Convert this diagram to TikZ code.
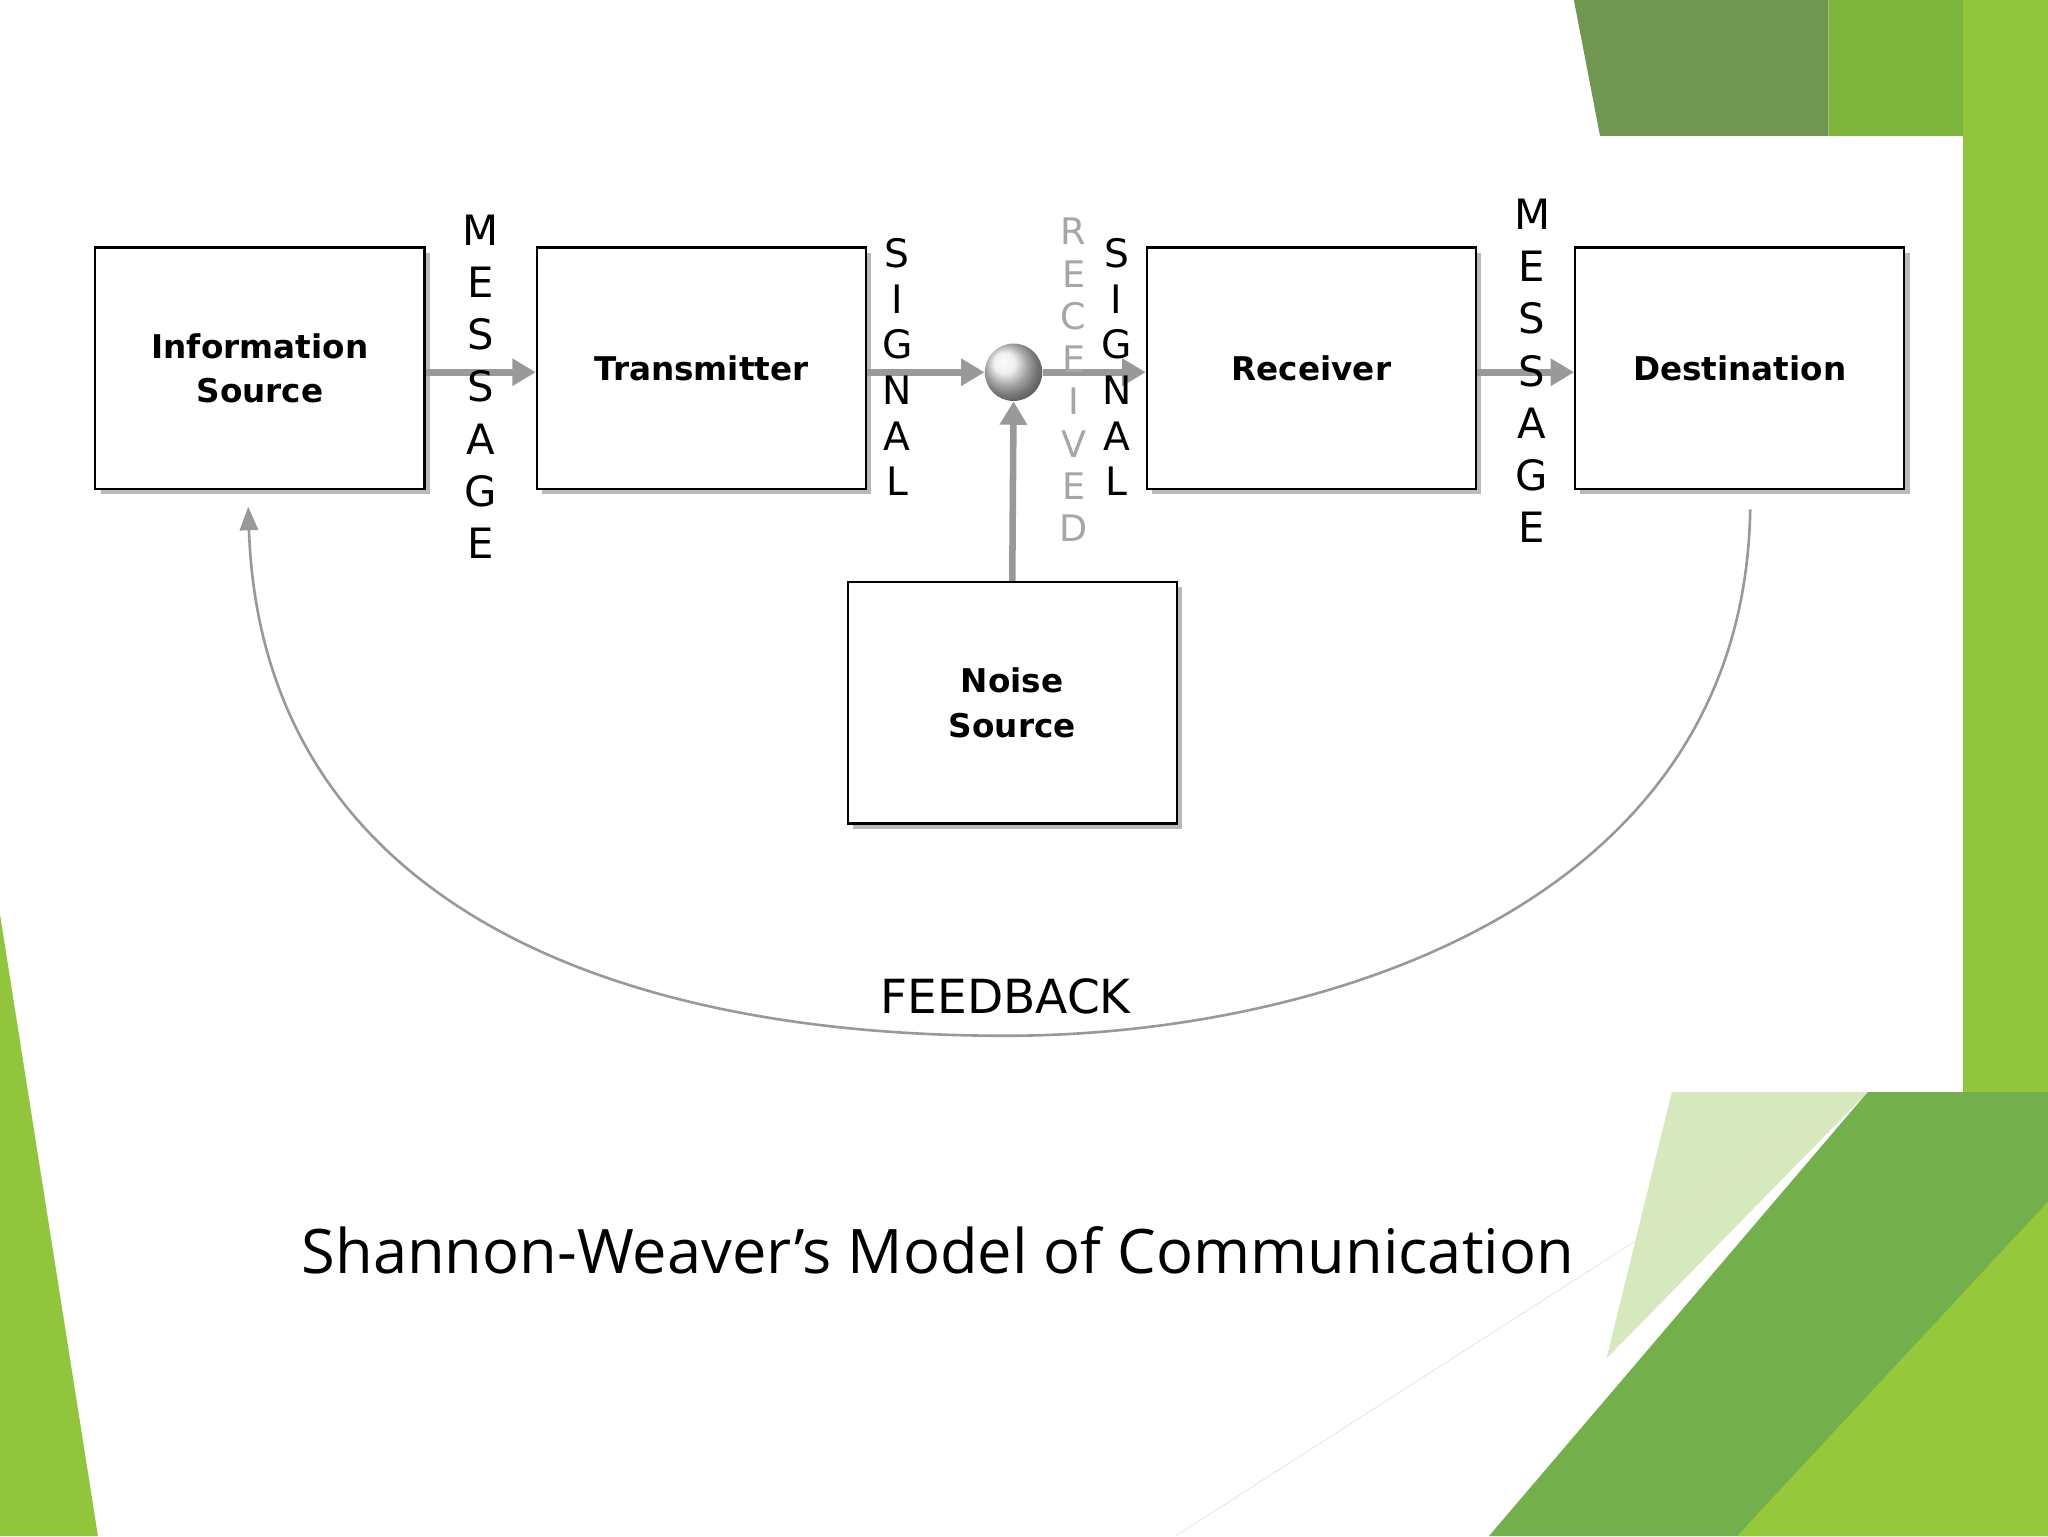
\documentclass[tikz,border=0pt]{standalone}
\usepackage{fontspec}
\usetikzlibrary{arrows.meta}
\setmainfont{DejaVu Sans}
\newfontfamily\capfont{Open Sans}
\definecolor{gA}{RGB}{112,150,82}
\definecolor{gB}{RGB}{125,180,60}
\definecolor{gC}{RGB}{145,198,60}
\definecolor{gD}{RGB}{115,175,75}
\definecolor{gE}{RGB}{150,200,60}
\definecolor{gF}{RGB}{215,232,190}
\begin{document}
\begin{tikzpicture}[x=1pt,y=-1pt,
  box/.style={draw=black,line width=1.6pt,fill=white,minimum width=252pt,minimum height=185pt,align=center,font=\fontsize{25}{34}\selectfont\bfseries,
    preaction={fill=black!45,opacity=0.6,transform canvas={xshift=4pt,yshift=-4pt}}},
  arr/.style={draw=black!40,line width=5pt,-{Triangle[length=18pt,width=20pt]}},
  vlet/.style={align=center,font=\fontsize{32}{38}\selectfont,inner sep=0pt}]
\useasboundingbox (0,0) rectangle (1568,1176);
\fill[white] (0,0) rectangle (1568,1176);
% green decoration
\fill[gA] (1205,0) -- (1400,0) -- (1400,104) -- (1225,104) -- cycle;
\fill[gB] (1400,0) -- (1568,0) -- (1568,104) -- (1400,104) -- cycle;
\fill[gC] (1503,0) -- (1568,0) -- (1568,1176) -- (1503,1176) -- cycle;
\fill[gD] (1140,1176) -- (1430,836) -- (1568,836) -- (1568,1176) -- cycle;
\fill[gE] (1330,1176) -- (1568,920) -- (1568,1176) -- cycle;
\fill[gF] (1280,836) -- (1430,836) -- (1230,1040) -- cycle;
\fill[white] (0,104) rectangle (1503,836);
\fill[gC] (0,700) -- (75,1176) -- (0,1176) -- cycle;
\draw[black!15] (900,1176) -- (1430,836);
% boxes
\node[box] (src) at (199,282) {Information\\Source};
\node[box] (tx) at (537,282) {Transmitter};
\node[box] (rx) at (1004,282) {Receiver};
\node[box] (dst) at (1332,282) {Destination};
\node[box] (noise) at (775,538) {Noise\\Source};
\node[circle,minimum size=44pt,inner sep=0pt,shading=ball,ball color=black!8] (ch) at (776,285) {};
% arrows
\draw[arr] (src.east|-ch) -- (tx.west|-ch);
\draw[arr] (tx.east|-ch) -- (ch.west);
\draw[arr] (ch.east) -- (rx.west|-ch);
\draw[arr] (rx.east|-ch) -- (dst.west|-ch);
\draw[arr] (noise.north) -- (ch.south);
% vertical labels
\node[vlet,font=\fontsize{32}{40}\selectfont] (m1) at (368,296) {M\\E\\S\\S\\A\\G\\E};
\node[vlet,font=\fontsize{30}{35}\selectfont] (s1) at (687,281) {S\\I\\G\\N\\A\\L};
\node[vlet,text=black!35,font=\fontsize{28}{32.5}\selectfont] (r1) at (822,291) {R\\E\\C\\E\\I\\V\\E\\D};
\node[vlet,font=\fontsize{30}{35}\selectfont] (s2) at (855,281) {S\\I\\G\\N\\A\\L};
\node[vlet,font=\fontsize{32}{40}\selectfont] (m2) at (1173,284) {M\\E\\S\\S\\A\\G\\E};
% feedback
\coordinate (fbs) at (1340,390);
\coordinate (fbe) at (190,388);
\draw[black!40,line width=2pt,-{Triangle[length=18pt,width=14pt]}] (fbs) .. controls (1335,700) and (1000,793) .. (770,793) .. controls (450,793) and (200,680) .. (fbe);
\node[font=\fontsize{36}{40}\selectfont] (fb) at (770,763) {FEEDBACK};
\node[font=\capfont\fontsize{47}{54}\selectfont] (cap) at (718,957) {Shannon-Weaver’s Model of Communication};
\end{tikzpicture}
\end{document}
